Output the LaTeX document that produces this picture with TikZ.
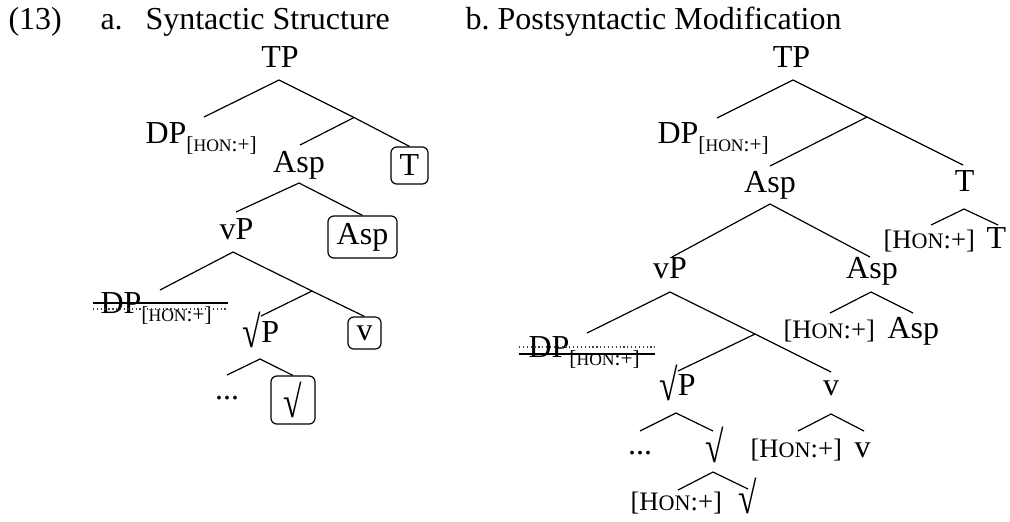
\documentclass[tikz,border=0pt]{standalone}
\usepackage{fontspec}
\setmainfont{Liberation Serif}
\usetikzlibrary{calc}

% feature value, full size and as a subscript
\newcommand\honfull{{\fontsize{10}{12}\selectfont[H{\fontsize{8.3}{10}\selectfont ON}:+]}}
\newcommand\honsub{{\fontsize{8}{9}\selectfont[{\fontsize{6.6}{8}\selectfont HON}:+]}}
\newcommand\dphon{DP\raisebox{-3pt}{\honsub}}
% tall root sign
\newcommand\rt{\raisebox{-2.2pt}{\scalebox{1.05}[1.4]{√}}}

\tikzset{
  lbl/.style={inner sep=0pt, anchor=base, font=\fontsize{12}{14}\selectfont},
  lblw/.style={lbl, anchor=base west},
  hbox/.style={draw, line width=0.45pt, rounded corners=2.2pt, inner sep=0pt,
               font=\fontsize{12}{14}\selectfont},
  edge/.style={line width=0.45pt},
  strike/.style={line width=0.45pt},
  strikedot/.style={line width=0.45pt, densely dotted, black!75}
}

\begin{document}
\begin{tikzpicture}[x=0.375pt, y=-0.375pt]
\useasboundingbox (0,0) rectangle (1010,521);

% headings
\node[lblw] (num)  at (8,29)   {(13)};
\node[lblw] (ha)   at (100,29) {a.};
\node[lblw] (hat)  at (145,29) {Syntactic Structure};
\node[lblw] (hb)   at (465,29) {b.};
\node[lblw] (hbt)  at (497,29) {Postsyntactic Modification};

% ---------------- tree a ----------------
\node[lbl]  (aTP)   at (280,67)  {TP};
\node[lblw] (aDP)   at (145,143) {\dphon};
\node[lbl]  (aAsp)  at (299,172) {Asp};
\node[hbox, minimum width=13.9pt, minimum height=13.9pt] (aT) at (409.5,165.5) {T};
\node[lbl]  (avP)   at (236.5,239) {vP};
\node[hbox, minimum width=25.9pt, minimum height=15.75pt] (aAspH) at (362.5,237) {Asp};
\node[lblw] (aDPx)  at (100,313) {\dphon};
\node[lbl]  (arP)   at (261,342) {\rt P};
\node[hbox, minimum width=12.4pt, minimum height=12pt] (av) at (364.5,333) {v};
\node[lbl]  (adots) at (227,399) {...};
\node[hbox, minimum width=16.5pt, minimum height=18pt] (ar) at (293,400) {\rt};

\coordinate (aTPb)  at (279,80);
\coordinate (aDPt)  at (204,117);
\coordinate (aj1)   at (354,117.5);
\coordinate (aAspt) at (300,145);
\coordinate (aAspb) at (299,183);
\coordinate (avPt)  at (236,212);
\coordinate (avPb)  at (233,252);
\coordinate (aDPxt) at (160,290);
\coordinate (aj2)   at (312,291);
\coordinate (arPt)  at (261,316);
\coordinate (arPb)  at (260,359);
\coordinate (adt)   at (227,375);

\draw[edge] (aTPb) -- (aDPt);
\draw[edge] (aTPb) -- (aj1) -- (aT.north);
\draw[edge] (aj1) -- (aAspt);
\draw[edge] (aAspb) -- (avPt);
\draw[edge] (aAspb) -- (aAspH.north);
\draw[edge] (avPb) -- (aDPxt);
\draw[edge] (avPb) -- (aj2) -- (av.north);
\draw[edge] (aj2) -- (arPt);
\draw[edge] (arPb) -- (adt);
\draw[edge] (arPb) -- (ar.north);

\draw[strike]    (93,303) -- (228,303);
\draw[strikedot] (93,309) -- (228,309);

% ---------------- tree b ----------------
\node[lbl]  (bTP)   at (791.5,67) {TP};
\node[lblw] (bDP)   at (657,143)  {\dphon};
\node[lbl]  (bAsp)  at (770,192)  {Asp};
\node[lbl]  (bT)    at (964.5,191) {T};
\node[lblw] (bTf)   at (883,248)  {\honfull};
\node[lblw] (bTh)   at (986,248)  {T};
\node[lbl]  (bvP)   at (670,278)  {vP};
\node[lbl]  (bAsp2) at (872,278)  {Asp};
\node[lblw] (bAspf) at (783,338)  {\honfull};
\node[lblw] (bAsph) at (887,338)  {Asp};
\node[lblw] (bDPx)  at (528,357)  {\dphon};
\node[lbl]  (brP)   at (677.5,395) {\rt P};
\node[lbl]  (bv)    at (831,395)  {v};
\node[lbl]  (bdots) at (640,454)  {...};
\node[lbl]  (br)    at (714.5,457) {\rt};
\node[lblw] (bvf)   at (750,457)  {\honfull};
\node[lblw] (bvh)   at (854,457)  {v};
\node[lblw] (brf)   at (630,510)  {\honfull};
\node[lblw] (brh)   at (738,508)  {\rt};

\coordinate (bTPb)  at (793,80);
\coordinate (bDPt)  at (717,118);
\coordinate (bj3)   at (867,117);
\coordinate (bAspt) at (770,166);
\coordinate (bTt)   at (963,165);
\coordinate (bAspb) at (770,204);
\coordinate (bvPt)  at (672,257);
\coordinate (bAsp2t) at (870,257);
\coordinate (bTb)   at (964,209);
\coordinate (bTft)  at (931,225);
\coordinate (bTht)  at (998,225);
\coordinate (bAsp2b) at (871,292);
\coordinate (bAspft) at (830,313);
\coordinate (bAspht) at (913,313);
\coordinate (bvPb)  at (670,292);
\coordinate (bDPxt) at (587,333);
\coordinate (bj4)   at (755,334);
\coordinate (bvt)   at (831,372);
\coordinate (brPt)  at (678,371);
\coordinate (brPb)  at (676,413);
\coordinate (bdt)   at (640,431);
\coordinate (brt)   at (713,431);
\coordinate (bvb)   at (831,414);
\coordinate (bvft)  at (798,431);
\coordinate (bvht)  at (864,431);
\coordinate (brb)   at (713,472);
\coordinate (brft)  at (678,490);
\coordinate (brht)  at (748,489);

\draw[edge] (bTPb) -- (bDPt);
\draw[edge] (bTPb) -- (bj3) -- (bTt);
\draw[edge] (bj3) -- (bAspt);
\draw[edge] (bAspb) -- (bvPt);
\draw[edge] (bAspb) -- (bAsp2t);
\draw[edge] (bTb) -- (bTft);
\draw[edge] (bTb) -- (bTht);
\draw[edge] (bAsp2b) -- (bAspft);
\draw[edge] (bAsp2b) -- (bAspht);
\draw[edge] (bvPb) -- (bDPxt);
\draw[edge] (bvPb) -- (bj4) -- (bvt);
\draw[edge] (bj4) -- (brPt);
\draw[edge] (brPb) -- (bdt);
\draw[edge] (brPb) -- (brt);
\draw[edge] (bvb) -- (bvft);
\draw[edge] (bvb) -- (bvht);
\draw[edge] (brb) -- (brft);
\draw[edge] (brb) -- (brht);

\draw[strikedot] (519,347) -- (655,347);
\draw[strike]    (519,354) -- (655,354);
\end{tikzpicture}
\end{document}
